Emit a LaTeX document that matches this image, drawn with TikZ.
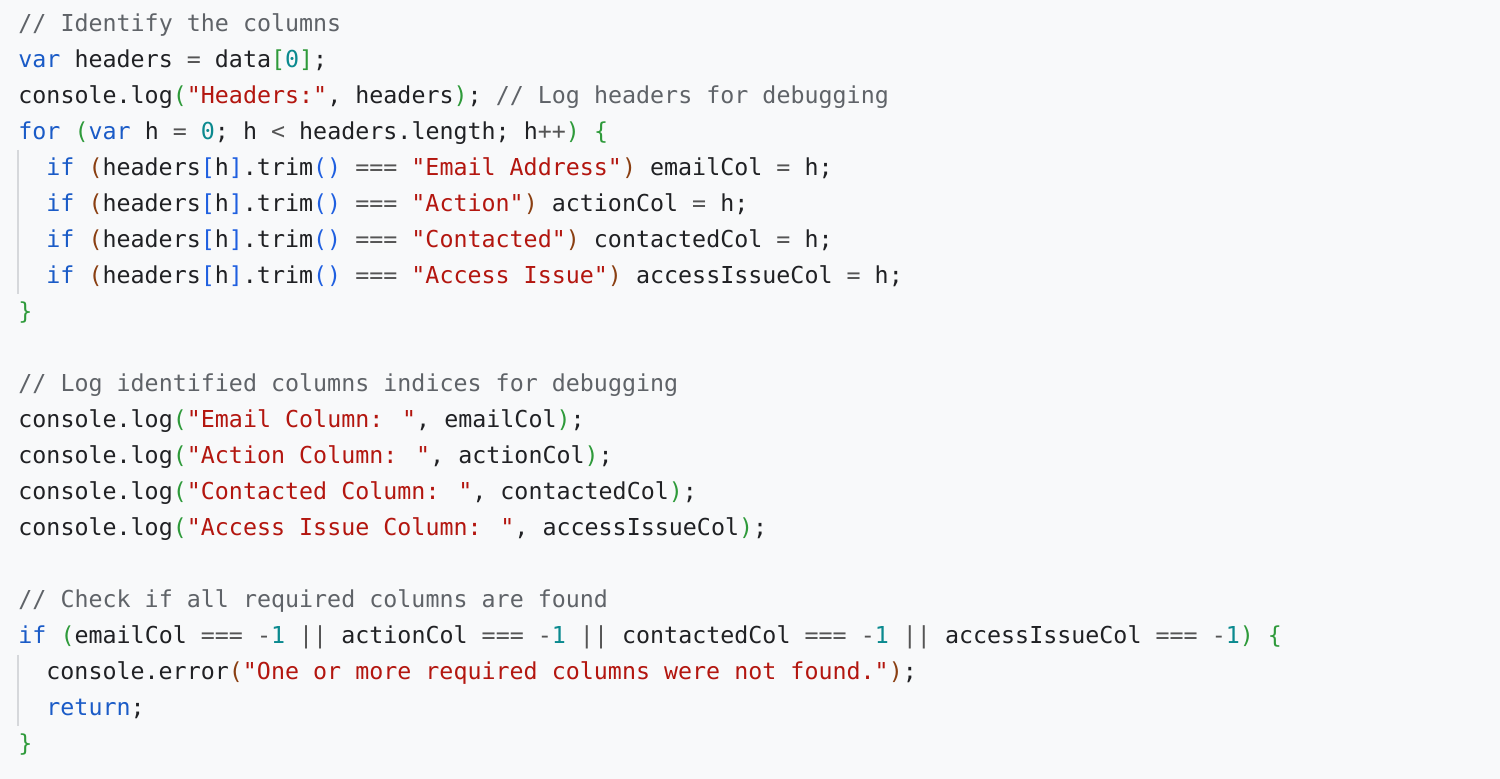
\documentclass[tikz,border=0pt]{standalone}
\usepackage{fontspec}
\newfontfamily\codefont{DejaVu Sans Mono}
\definecolor{bg}{HTML}{F8F9FA}
\definecolor{kw}{HTML}{1A5BC7}
\definecolor{str}{HTML}{B3160F}
\definecolor{num}{HTML}{0B8A8F}
\definecolor{cmt}{HTML}{5F6368}
\definecolor{pa}{HTML}{2E9A3A}
\definecolor{pb}{HTML}{8A3F12}
\definecolor{pc}{HTML}{1F5FE0}
\definecolor{op}{HTML}{555555}
\definecolor{txt}{HTML}{202124}
\definecolor{guide}{HTML}{D6D8DB}
\newcommand\K[1]{\textcolor{kw}{#1}}
\newcommand\St[1]{\textcolor{str}{#1}}
\newcommand\N[1]{\textcolor{num}{#1}}
\newcommand\Cm[1]{\textcolor{cmt}{#1}}
\newcommand\PA[1]{\textcolor{pa}{#1}}
\newcommand\PB[1]{\textcolor{pb}{#1}}
\newcommand\PC[1]{\textcolor{pc}{#1}}
\newcommand\Op[1]{\textcolor{op}{#1}}
\begin{document}
\begin{tikzpicture}[x=0.5pt,y=-0.5pt,
  code/.style={anchor=base west,inner sep=0pt,text=txt,font=\codefont\fontsize{11.66}{14}\selectfont}]
\fill[bg] (0,0) rectangle (1500,779);
\useasboundingbox (0,0) rectangle (1500,779);
\draw[guide,line width=1pt] (18,150) -- (18,294);
\draw[guide,line width=1pt] (18,655) -- (18,726);
\node[code] (l1) at (18,32) {\Cm{// Identify the columns}};
\node[code] (l2) at (18,68) {\K{var} headers \Op{=} data\PA{[}\N{0}\PA{]};};
\node[code] (l3) at (18,104) {console.log\PA{(}\St{"Headers:"}, headers\PA{)}; \Cm{// Log headers for debugging}};
\node[code] (l4) at (18,140) {\K{for} \PA{(}\K{var} h \Op{=} \N{0}; h \Op{<} headers.length; h\Op{++}\PA{)} \PA{\{}};
\node[code] (l5) at (46,176) {\K{if} \PB{(}headers\PC{[}h\PC{]}.trim\PC{()} \Op{===} \St{"Email Address"}\PB{)} emailCol \Op{=} h;};
\node[code] (l6) at (46,212) {\K{if} \PB{(}headers\PC{[}h\PC{]}.trim\PC{()} \Op{===} \St{"Action"}\PB{)} actionCol \Op{=} h;};
\node[code] (l7) at (46,248) {\K{if} \PB{(}headers\PC{[}h\PC{]}.trim\PC{()} \Op{===} \St{"Contacted"}\PB{)} contactedCol \Op{=} h;};
\node[code] (l8) at (46,284) {\K{if} \PB{(}headers\PC{[}h\PC{]}.trim\PC{()} \Op{===} \St{"Access Issue"}\PB{)} accessIssueCol \Op{=} h;};
\node[code] (l9) at (18,320) {\PA{\}}};
\node[code] (l10) at (18,392) {\Cm{// Log identified columns indices for debugging}};
\node[code] (l11) at (18,428) {console.log\PA{(}\St{"Email Column: "}, emailCol\PA{)};};
\node[code] (l12) at (18,464) {console.log\PA{(}\St{"Action Column: "}, actionCol\PA{)};};
\node[code] (l13) at (18,500) {console.log\PA{(}\St{"Contacted Column: "}, contactedCol\PA{)};};
\node[code] (l14) at (18,536) {console.log\PA{(}\St{"Access Issue Column: "}, accessIssueCol\PA{)};};
\node[code] (l15) at (18,608) {\Cm{// Check if all required columns are found}};
\node[code] (l16) at (18,644) {\K{if} \PA{(}emailCol \Op{===} \Op{-}\N{1} \Op{||} actionCol \Op{===} \Op{-}\N{1} \Op{||} contactedCol \Op{===} \Op{-}\N{1} \Op{||} accessIssueCol \Op{===} \Op{-}\N{1}\PA{)} \PA{\{}};
\node[code] (l17) at (46,680) {console.error\PB{(}\St{"One or more required columns were not found."}\PB{)};};
\node[code] (l18) at (46,716) {\K{return};};
\node[code] (l19) at (18,752) {\PA{\}}};
\end{tikzpicture}
\end{document}
